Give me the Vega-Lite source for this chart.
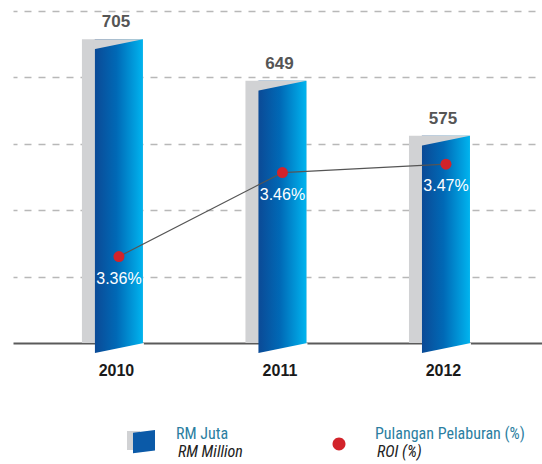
{
  "$schema": "https://vega.github.io/schema/vega-lite/v6.json",
  "width": 529,
  "height": 332,
  "autosize": "none",
  "padding": {"left": 13, "top": 11, "right": 0, "bottom": 121},
  "config": {"view": {"stroke": null}, "font": "Liberation Sans"},
  "data": {
    "values": [
      {"year": "2010", "value": 705, "roi": 0.0336},
      {"year": "2011", "value": 649, "roi": 0.0346},
      {"year": "2012", "value": 575, "roi": 0.0347}
    ]
  },
  "layer": [
    {
      "layer": [
        {
          "mark": {"type": "bar", "color": "#d1d2d4"},
          "encoding": {
            "x": {
              "field": "year", "type": "nominal", "title": null,
              "scale": {"paddingInner": 0.627, "paddingOuter": 0.431, "align": 0.489},
              "axis": {
                "labelFont": "Liberation Sans", "labelFontSize": 16, "labelFontWeight": "bold",
                "labelColor": "#1a1a1a", "labelPadding": 32, "labelBaseline": "alphabetic",
                "ticks": false, "tickSize": 0, "domainColor": "#5a5a5a", "domainWidth": 2,
                "labelOffset": 4, "labelAngle": 0
              }
            },
            "y": {
              "field": "value", "type": "quantitative", "title": null,
              "scale": {"domain": [296, 743], "zero": false, "nice": false},
              "axis": {
                "values": [385.4, 474.8, 564.2, 653.6, 743],
                "grid": true, "gridDash": [7, 7], "gridDashOffset": 3, "gridColor": "#b8b8b8", "gridWidth": 1.5,
                "labels": false, "ticks": false, "domain": false, "title": null
              }
            },
            "y2": {"datum": 296}
          }
        },
        {
          "mark": {
            "type": "bar", "width": 48, "xOffset": 6.5, "y2Offset": 10,
            "fill": {
              "gradient": "linear", "x1": 0, "x2": 1, "y1": 0, "y2": 0,
              "stops": [
                {"offset": 0, "color": "#0b4a96"},
                {"offset": 0.45, "color": "#0069b6"},
                {"offset": 1, "color": "#00b4ef"}
              ]
            }
          },
          "encoding": {
            "x": {"field": "year", "type": "nominal", "title": null},
            "y": {"field": "value", "type": "quantitative", "title": null},
            "y2": {"datum": 296}
          }
        },
        {
          "mark": {
            "type": "point", "shape": "M-1.04,-0.2083L1,-0.2083L-1.04,0.2083Z", "size": 2304,
            "filled": true, "fill": "#d1d2d4", "opacity": 1, "strokeWidth": 0, "xOffset": 6.5, "yOffset": 5
          },
          "encoding": {
            "x": {"field": "year", "type": "nominal", "title": null},
            "y": {"field": "value", "type": "quantitative", "title": null}
          }
        },
        {
          "mark": {
            "type": "point", "shape": "M-1,0.2083L1.04,-0.2083L1.04,0.32L-1.04,0.32Z", "size": 2304,
            "filled": true, "fill": "#ffffff", "opacity": 1, "strokeWidth": 0, "xOffset": 6.5, "yOffset": 5
          },
          "encoding": {
            "x": {"field": "year", "type": "nominal", "title": null},
            "y": {"datum": 296}
          }
        },
        {
          "mark": {
            "type": "text", "dx": 3.5, "dy": -12, "baseline": "alphabetic",
            "fontSize": 17, "fontWeight": "bold", "color": "#555555", "font": "Liberation Sans"
          },
          "encoding": {
            "x": {"field": "year", "type": "nominal", "title": null},
            "y": {"field": "value", "type": "quantitative", "title": null},
            "text": {"field": "value", "type": "quantitative"}
          }
        }
      ]
    },
    {
      "layer": [
        {
          "mark": {"type": "line", "color": "#555555", "strokeWidth": 1.2, "xOffset": 6.5},
          "encoding": {
            "x": {"field": "year", "type": "nominal", "title": null},
            "y": {
              "field": "roi", "type": "quantitative", "title": null,
              "scale": {"domain": [0.03257, 0.036525], "zero": false, "nice": false},
              "axis": null
            }
          }
        },
        {
          "mark": {"type": "point", "shape": "circle", "filled": true, "opacity": 1, "color": "#d2232a", "size": 121, "xOffset": 6.5},
          "encoding": {
            "x": {"field": "year", "type": "nominal", "title": null},
            "y": {"field": "roi", "type": "quantitative", "title": null}
          }
        },
        {
          "mark": {"type": "text", "dx": 6.5, "dy": 27, "baseline": "alphabetic", "fontSize": 16, "color": "#ffffff", "font": "Liberation Sans"},
          "encoding": {
            "x": {"field": "year", "type": "nominal", "title": null},
            "y": {"field": "roi", "type": "quantitative", "title": null},
            "text": {"field": "roi", "type": "quantitative", "format": ".2%"}
          }
        }
      ]
    },
    {
      "data": {"values": [{"e": "RM Juta"}]},
      "mark": {"type": "point", "filled": true, "opacity": 0},
      "encoding": {
        "color": {
          "field": "e", "type": "nominal",
          "scale": {"range": ["#d1d2d4"]},
          "legend": {
            "title": null, "orient": "none", "legendX": 119, "legendY": 416, "padding": 0, "zindex": 1,
            "symbolType": "M-1.417,-0.667L-0.33,-0.667L-0.33,0.917L-1.417,0.917Z",
            "symbolSize": 576, "symbolStrokeWidth": 0, "symbolOpacity": 1, "labelOpacity": 0,
            "encode": {"symbols": {"update": {"opacity": {"value": 1}, "fill": {"value": "#d1d2d4"}}}}
          }
        }
      }
    },
    {
      "data": {"values": [{"a": "RM Juta"}]},
      "mark": {"type": "point", "filled": true, "opacity": 0},
      "encoding": {
        "fill": {
          "field": "a", "type": "nominal",
          "scale": {"range": ["#0b5aa8"]},
          "legend": {
            "title": null, "orient": "none", "legendX": 119, "legendY": 416, "padding": 0, "zindex": 2,
            "symbolType": "M-0.917,-0.525L0.917,-0.75L0.917,0.96L-0.917,1.19Z",
            "symbolSize": 576, "symbolStrokeWidth": 0, "symbolOpacity": 1,
            "labelOffset": 20, "labelFont": "Liberation Sans Narrow, Roboto Condensed, Liberation Sans",
            "labelFontSize": 16, "labelColor": "#2b7ea1", "labelBaseline": "alphabetic", "labelLimit": 300,
            "encode": {
              "symbols": {
                "update": {
                  "opacity": {"value": 1},
                  "fill": {"value": {
                    "gradient": "linear", "x1": 0, "x2": 1, "y1": 0, "y2": 0,
                    "stops": [
                      {"offset": 0, "color": "#0b4a96"},
                      {"offset": 0.45, "color": "#0069b6"},
                      {"offset": 1, "color": "#00b4ef"}
                    ]
                  }}
                }
              }
            }
          }
        }
      }
    },
    {
      "data": {"values": [{"b": "RM Million"}]},
      "mark": {"type": "point", "filled": true, "opacity": 0},
      "encoding": {
        "stroke": {
          "field": "b", "type": "nominal",
          "scale": {"range": ["#ffffff"]},
          "legend": {
            "title": null, "orient": "none", "legendX": 119, "legendY": 433, "padding": 0,
            "symbolSize": 576, "symbolOpacity": 0,
            "labelOffset": 20, "labelFont": "Liberation Sans Narrow, Roboto Condensed, Liberation Sans",
            "labelFontSize": 16, "labelFontStyle": "italic", "labelColor": "#222222", "labelBaseline": "alphabetic", "labelLimit": 300
          }
        }
      }
    },
    {
      "data": {"values": [{"c": "Pulangan Pelaburan (%)"}]},
      "mark": {"type": "point", "filled": true, "opacity": 0, "color": "#d2232a"},
      "encoding": {
        "shape": {
          "field": "c", "type": "nominal",
          "scale": {"range": ["M0.54,0.417C0.54,0.715,0.298,0.957,0,0.957C-0.298,0.957,-0.54,0.715,-0.54,0.417C-0.54,0.119,-0.298,-0.123,0,-0.123C0.298,-0.123,0.54,0.119,0.54,0.417Z"]},
          "legend": {
            "title": null, "orient": "none", "legendX": 314, "legendY": 416, "padding": 0,
            "symbolSize": 576, "symbolStrokeWidth": 0, "symbolOpacity": 1, "symbolFillColor": "#d2232a",
            "labelOffset": 24, "labelFont": "Liberation Sans Narrow, Roboto Condensed, Liberation Sans",
            "labelFontSize": 16, "labelColor": "#2b7ea1", "labelBaseline": "alphabetic", "labelLimit": 300,
            "encode": {"symbols": {"update": {"opacity": {"value": 1}, "fill": {"value": "#d2232a"}, "strokeWidth": {"value": 0}}}}
          }
        }
      }
    },
    {
      "data": {"values": [{"d": "ROI (%)"}]},
      "mark": {"type": "point", "filled": true, "opacity": 0},
      "encoding": {
        "strokeDash": {
          "field": "d", "type": "nominal",
          "legend": {
            "title": null, "orient": "none", "legendX": 314, "legendY": 433, "padding": 0,
            "symbolSize": 576, "symbolOpacity": 0,
            "labelOffset": 24, "labelFont": "Liberation Sans Narrow, Roboto Condensed, Liberation Sans",
            "labelFontSize": 16, "labelFontStyle": "italic", "labelColor": "#222222", "labelBaseline": "alphabetic", "labelLimit": 300
          }
        }
      }
    }
  ],
  "resolve": {"scale": {"y": "independent"}}
}
